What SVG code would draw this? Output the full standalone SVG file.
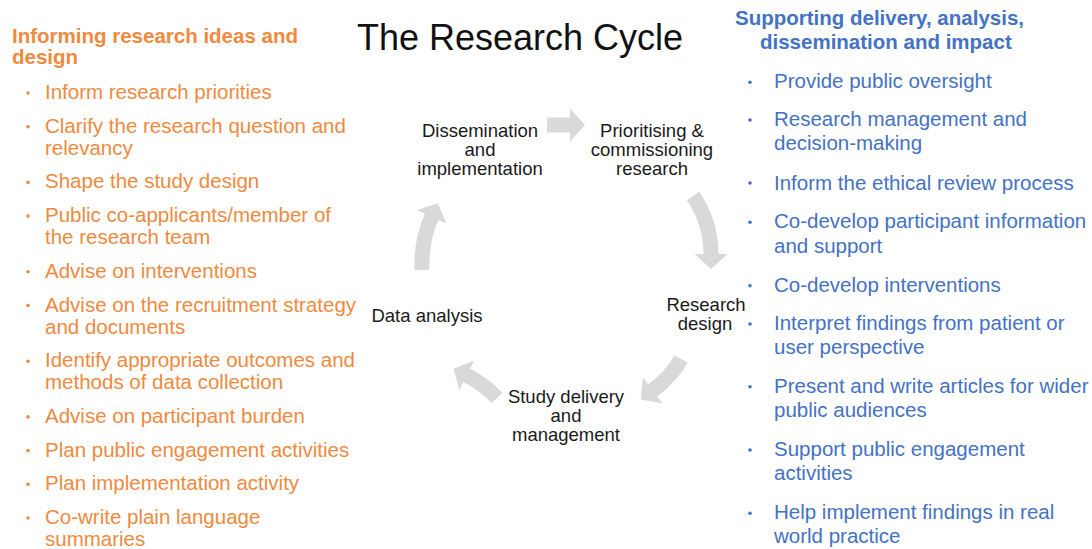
<svg xmlns="http://www.w3.org/2000/svg" width="1092" height="549" viewBox="0 0 1092 549">
<style>
text{font-family:"Liberation Sans",Arial,sans-serif}
.title{font-size:36px;fill:#111}
.oh{font-size:20.5px;font-weight:bold;fill:#EF8A3E}
.bh{font-size:20.5px;font-weight:bold;fill:#4472C4}
.o{font-size:20.5px;fill:#EF8A3E}
.b{font-size:20.5px;fill:#4472C4}
.ob{fill:#EF8A3E}
.bb{fill:#4472C4}
.c{font-size:18.5px;fill:#1a1a1a;text-anchor:middle}
.arr{fill:none;stroke:#d9d9d9;stroke-width:15}
</style>
<defs>
<marker id="ah" markerUnits="userSpaceOnUse" markerWidth="15" markerHeight="33" viewBox="0 0 15 33" refX="1" refY="16.5" orient="auto">
<path d="M0,0 L15,16.5 L0,33 Z" fill="#d9d9d9"/>
</marker>
</defs>
<rect width="1092" height="549" fill="#fff"/>
<text class="title" x="520" y="50" text-anchor="middle">The Research Cycle</text>

<g id="left-panel">
<text class="oh" x="12" y="43">Informing research ideas and</text>
<text class="oh" x="12" y="64">design</text>
<g class="ob">
<circle cx="28" cy="93" r="1.8"/><circle cx="28" cy="126.7" r="1.8"/><circle cx="28" cy="182.4" r="1.8"/><circle cx="28" cy="216.1" r="1.8"/><circle cx="28" cy="271.8" r="1.8"/><circle cx="28" cy="305.5" r="1.8"/><circle cx="28" cy="361.2" r="1.8"/><circle cx="28" cy="416.9" r="1.8"/><circle cx="28" cy="450.6" r="1.8"/><circle cx="28" cy="484.3" r="1.8"/><circle cx="28" cy="518" r="1.8"/>
</g>
<text class="o" x="45" y="99">Inform research priorities</text>
<text class="o" x="45" y="132.7">Clarify the research question and</text>
<text class="o" x="45" y="154.7">relevancy</text>
<text class="o" x="45" y="188.4">Shape the study design</text>
<text class="o" x="45" y="222.1">Public co-applicants/member of</text>
<text class="o" x="45" y="244.1">the research team</text>
<text class="o" x="45" y="277.8">Advise on interventions</text>
<text class="o" x="45" y="311.5">Advise on the recruitment strategy</text>
<text class="o" x="45" y="333.5">and documents</text>
<text class="o" x="45" y="367.2">Identify appropriate outcomes and</text>
<text class="o" x="45" y="389.2">methods of data collection</text>
<text class="o" x="45" y="422.9">Advise on participant burden</text>
<text class="o" x="45" y="456.6">Plan public engagement activities</text>
<text class="o" x="45" y="490.3">Plan implementation activity</text>
<text class="o" x="45" y="524">Co-write plain language</text>
<text class="o" x="45" y="546">summaries</text>
</g>

<g id="right-panel">
<text class="bh" x="735" y="25">Supporting delivery, analysis,</text>
<text class="bh" x="760" y="49.3">dissemination and impact</text>
<g class="bb">
<circle cx="750" cy="82.3" r="1.8"/><circle cx="750" cy="120" r="1.8"/><circle cx="750" cy="183" r="1.8"/><circle cx="750" cy="222.3" r="1.8"/><circle cx="750" cy="285.7" r="1.8"/><circle cx="750" cy="324" r="1.8"/><circle cx="750" cy="386.7" r="1.8"/><circle cx="750" cy="450" r="1.8"/><circle cx="750" cy="513.3" r="1.8"/>
</g>
<text class="b" x="774" y="88.3">Provide public oversight</text>
<text class="b" x="774" y="126">Research management and</text>
<text class="b" x="774" y="150.3">decision-making</text>
<text class="b" x="774" y="189.5">Inform the ethical review process</text>
<text class="b" x="774" y="228.3">Co-develop participant information</text>
<text class="b" x="774" y="252.7">and support</text>
<text class="b" x="774" y="291.7">Co-develop interventions</text>
<text class="b" x="774" y="330">Interpret findings from patient or</text>
<text class="b" x="774" y="354.3">user perspective</text>
<text class="b" x="774" y="392.7">Present and write articles for wider</text>
<text class="b" x="774" y="416.8">public audiences</text>
<text class="b" x="774" y="456">Support public engagement</text>
<text class="b" x="774" y="480.2">activities</text>
<text class="b" x="774" y="519.3">Help implement findings in real</text>
<text class="b" x="774" y="543.4">world practice</text>
</g>

<g id="connectors">
<path class="arr" d="M547 125 L571 125" marker-end="url(#ah)"/>
<path class="arr" d="M693 196 Q711 222 711 255" marker-end="url(#ah)"/>
<path class="arr" d="M681 359 Q672 376 652 391" marker-end="url(#ah)"/>
<path class="arr" d="M497 398 Q484 384 466 375" marker-end="url(#ah)"/>
<path class="arr" d="M422 270 Q421 240 432 216" marker-end="url(#ah)"/>
</g>

<g id="node-dissemination">
<text class="c" x="480" y="137">Dissemination</text>
<text class="c" x="480" y="156">and</text>
<text class="c" x="480" y="175">implementation</text>
</g>
<g id="node-prioritising">
<text class="c" x="652" y="137">Prioritising &amp;</text>
<text class="c" x="652" y="156">commissioning</text>
<text class="c" x="652" y="175">research</text>
</g>
<g id="node-research-design">
<text class="c" x="706" y="311">Research</text>
<text class="c" x="705" y="330">design</text>
</g>
<g id="node-study-delivery">
<text class="c" x="566" y="403">Study delivery</text>
<text class="c" x="566" y="422">and</text>
<text class="c" x="566" y="441">management</text>
</g>
<g id="node-data-analysis">
<text class="c" x="427" y="321.5">Data analysis</text>
</g>
</svg>
